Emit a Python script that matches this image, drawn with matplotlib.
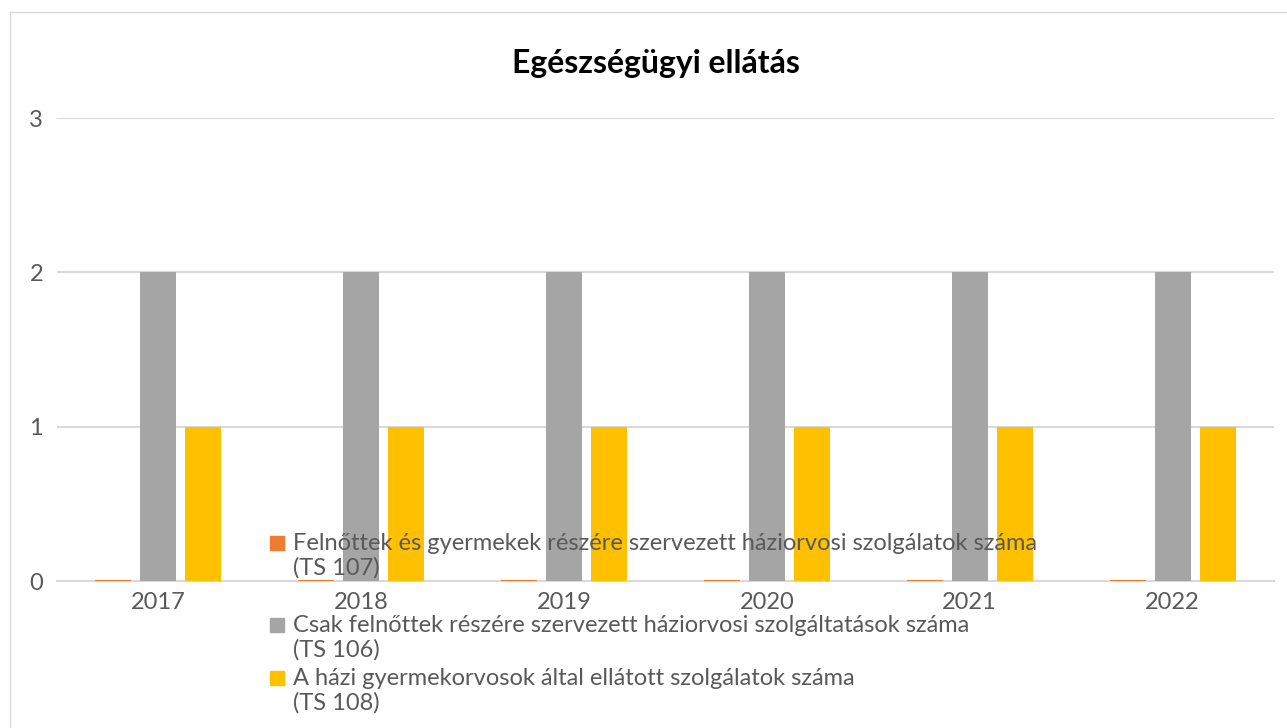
import matplotlib
matplotlib.use('Agg')
import matplotlib.pyplot as plt
import numpy as np
from matplotlib.patches import Rectangle
from matplotlib.lines import Line2D

years = ['2017', '2018', '2019', '2020', '2021', '2022']
ts107 = [0, 0, 0, 0, 0, 0]
ts106 = [2, 2, 2, 2, 2, 2]
ts108 = [1, 1, 1, 1, 1, 1]
labels = ['Felnőttek és gyermekek részére szervezett háziorvosi szolgálatok száma\n(TS 107)',
          'Csak felnőttek részére szervezett háziorvosi szolgáltatások száma\n(TS 106)',
          'A házi gyermekorvosok által ellátott szolgálatok száma\n(TS 108)']
colors = ['#ED7D31', '#A5A5A5', '#FFC000']
title = 'Egészségügyi ellátás'

plt.rcParams['font.family'] = ['Lato', 'DejaVu Sans']
txt = '#595959'

fig = plt.figure(figsize=(12.87, 7.28), dpi=100)
ax = fig.add_axes([57/1287, 1-581/728, (1274-57)/1287, (581-118)/728])

x = np.arange(len(years))
w = 0.177
off = 0.222
ax.bar(x - off, ts107, w, color=colors[0], edgecolor=colors[0], linewidth=1.5, zorder=3)
ax.bar(x, ts106, w, color=colors[1], zorder=3)
ax.bar(x + off, ts108, w, color=colors[2], zorder=3)

ax.set_xlim(-0.5, len(years) - 0.5)
ax.set_ylim(0, 3)
ax.set_yticks([0, 1, 2, 3])
ax.set_xticks(x)
ax.set_xticklabels(years)
ax.yaxis.grid(True, color='#d9d9d9', linewidth=1.5, zorder=0)
ax.tick_params(axis='both', length=0, labelsize=17, labelcolor=txt)
ax.tick_params(axis='y', pad=10)
ax.tick_params(axis='x', pad=8)
for s in ['top', 'right', 'left']:
    ax.spines[s].set_visible(False)
ax.spines['bottom'].set_color('#d9d9d9')
ax.spines['bottom'].set_linewidth(1.5)

fig.text(656/1287, 1-64/728, title, ha='center', va='center', fontsize=23, fontweight='bold', color='black')

# chart border
fig.add_artist(Line2D([10/1287, 10/1287], [0, 1-12/728], color='#d9d9d9', linewidth=1))
fig.add_artist(Line2D([10/1287, 1], [1-12/728, 1-12/728], color='#d9d9d9', linewidth=1))

# legend
leg_y = [543, 625, 678]
for yy, lab, c in zip(leg_y, labels, colors):
    fig.add_artist(Rectangle((270/1287, 1-(yy+7)/728), 14/1287, 14/728, color=c, transform=fig.transFigure, zorder=5))
    fig.text(293/1287, 1-(yy-10)/728, lab, ha='left', va='top', fontsize=17, color=txt, linespacing=1.15, zorder=5)

fig.savefig('out.png', dpi=100)
